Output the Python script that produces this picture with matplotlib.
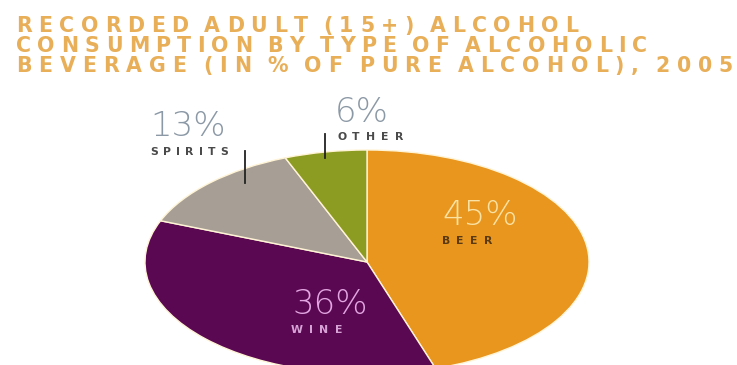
import matplotlib
matplotlib.use("Agg")
import matplotlib.pyplot as plt
from matplotlib.font_manager import FontProperties
from matplotlib.lines import Line2D

# share of recorded adult alcohol consumption, 2005
beverages = ["BEER", "WINE", "SPIRITS", "OTHER"]
shares = [45, 36, 13, 6]
colors = ["#E8961E", "#5B0852", "#A79E95", "#8C9C22"]

title_lines = ["RECORDED ADULT (15+) ALCOHOL",
               "CONSUMPTION BY TYPE OF ALCOHOLIC",
               "BEVERAGE (IN % OF PURE ALCOHOL), 2005"]

W, H = 737, 365
fig = plt.figure(figsize=(W / 100, H / 100), dpi=100)
fig.patch.set_facecolor("white")
rend = fig.canvas.get_renderer()


def fx(x):
    return x / W


def fy(y):
    return 1 - y / H


def spaced(s, x0, x1, y, size, color, weight="normal", space=0.32):
    """Letter-spaced caps: glyphs laid out one by one between x0 and x1 (pixels)."""
    fp = FontProperties(family="DejaVu Sans", size=size, weight=weight)
    ws = []
    for ch in s:
        if ch == " ":
            ws.append(size * 100 / 72 * space)
        else:
            ws.append(rend.get_text_width_height_descent(ch, fp, ismath=False)[0])
    track = (x1 - x0 - sum(ws)) / max(len(s) - 1, 1)
    x = x0
    for ch, w in zip(s, ws):
        if ch != " ":
            fig.text(fx(x), fy(y), ch, fontproperties=fp, color=color,
                     ha="left", va="baseline")
        x += w + track


# title block
TITLE_C = "#E8AE58"
for line, x1, base in zip(title_lines, [578, 647, 733], [32, 52, 72]):
    spaced(line, 16, x1, base, 14.8, TITLE_C, weight="bold", space=0.12)

# elliptical pie, bottom runs off the page
cx, cy, rx, ry = 367, 262, 222, 112
ax = fig.add_axes([fx(cx - rx), fy(cy + ry), 2 * rx / W, 2 * ry / H])
ax.pie(shares, colors=colors, startangle=90, counterclock=False, radius=1,
       wedgeprops=dict(edgecolor="#FFF4D6", linewidth=1.0))
ax.set_aspect("auto")
ax.set_xlim(-1, 1)
ax.set_ylim(-1, 1)
ax.axis("off")

# value labels: (x, baseline, colour) for number, (x0, x1, baseline, colour) for name
num_pos = [(442, 225, "#F9E2A4"), (292, 314, "#E2A6E2"),
           (150, 136, "#8B98A5"), (335, 122, "#8B98A5")]
name_pos = [(442, 492, 244, "#5A3A12"), (291, 342, 333, "#D7A3D7"),
            (150, 228, 155, "#4A4A4A"), (337, 403, 140, "#4A4A4A")]
for v, name, (nx, nb, nc), (x0, x1, b, c) in zip(shares, beverages, num_pos, name_pos):
    fig.text(fx(nx), fy(nb), f"{v}%", fontsize=24.5, color=nc,
             fontweight="light", ha="left", va="baseline")
    spaced(name, x0, x1, b, 7.8, c, weight="bold")

# leader ticks for the two thin slices
for x, y0, y1 in [(245, 151, 183), (325, 134, 158)]:
    fig.add_artist(Line2D([fx(x), fx(x)], [fy(y0), fy(y1)], color="#222222", lw=1.3))

fig.savefig("out.png", dpi=100, facecolor="white")
